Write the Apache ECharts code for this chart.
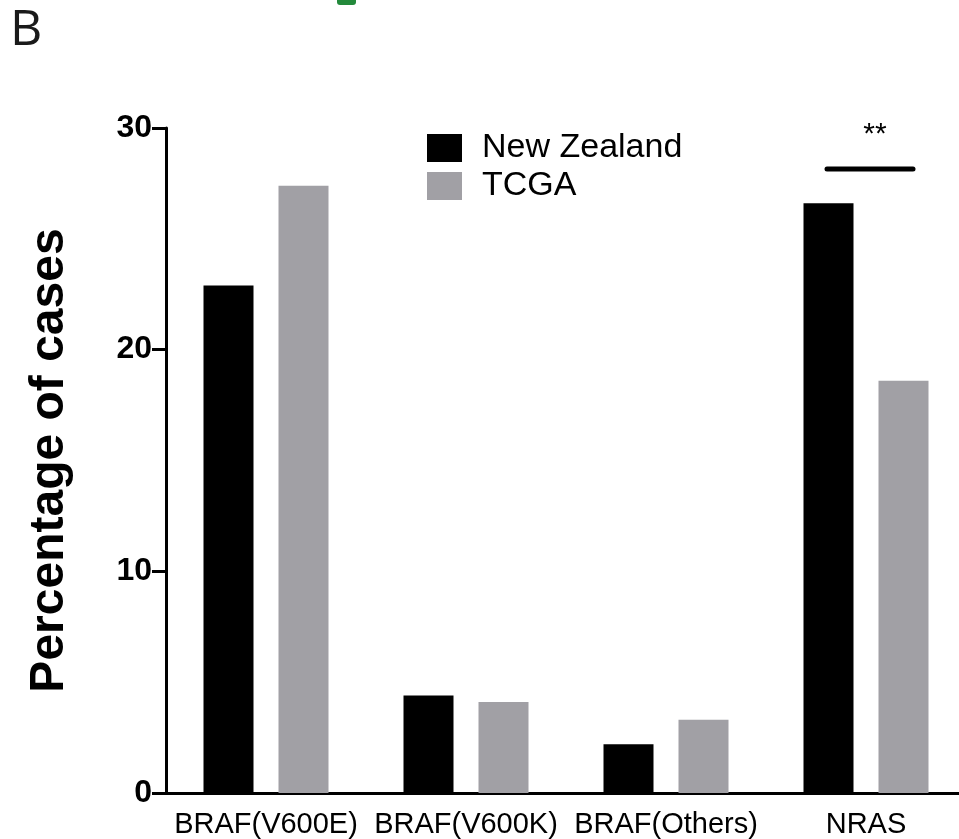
<!DOCTYPE html>
<html>
<head>
<meta charset="utf-8">
<title>Mutation frequency: New Zealand vs TCGA</title>
<script src="https://cdn.jsdelivr.net/npm/echarts@6/dist/echarts.min.js"></script>
<style>
  html, body { margin: 0; padding: 0; background: #ffffff; }
  #chart { width: 959px; height: 839px; }
</style>
</head>
<body>
<div id="chart"></div>
<script>
// Mutation categories on the x axis
const categories = ['BRAF(V600E)', 'BRAF(V600K)', 'BRAF(Others)', 'NRAS'];
// Percentage of cases per cohort
const newZealand = [22.9, 4.4, 2.2, 26.6];
const tcga = [27.4, 4.1, 3.3, 18.6];
// Y axis range and step
const yMin = 0, yMax = 30, yStep = 10;
// Significance annotation: category index, bracket height (percent), marker text
const sigCategory = [3];
const sigLevel = [28.15];
const sigText = ['**'];

const chart = echarts.init(document.getElementById('chart'), null, { renderer: 'canvas' });

const option = {
  animation: false,
  backgroundColor: '#ffffff',
  textStyle: { fontFamily: 'Liberation Sans, Arial, sans-serif' },
  grid: {
    left: 166, top: 128, width: 800, height: 665,
    containLabel: false,
    outerBoundsMode: 'none'
  },
  legend: {
    orient: 'vertical',
    left: 422,
    top: 126,
    itemWidth: 35,
    itemHeight: 28,
    itemGap: 4,
    icon: 'rect',
    selectedMode: false,
    textStyle: {
      fontSize: 34,
      color: '#000',
      lineHeight: 30,
      padding: [0, 0, 0, 15],
      fontFamily: 'Liberation Sans, Arial, sans-serif'
    },
    data: ['New Zealand', 'TCGA']
  },
  xAxis: {
    type: 'category',
    data: categories,
    axisLine: { lineStyle: { color: '#000', width: 3 } },
    axisTick: { alignWithLabel: true, length: 10, lineStyle: { color: '#000', width: 3 } },
    axisLabel: { color: '#000', fontSize: 29, margin: 17, interval: 0 },
    splitLine: { show: false }
  },
  yAxis: {
    type: 'value',
    min: yMin,
    max: yMax,
    interval: yStep,
    name: 'Percentage of cases',
    nameLocation: 'middle',
    nameRotate: 90,
    nameGap: 92,
    nameTextStyle: { fontSize: 48, fontWeight: 'bold', color: '#000' },
    axisLine: { show: true, lineStyle: { color: '#000', width: 3 } },
    axisTick: { show: true, length: 14, lineStyle: { color: '#000', width: 3 } },
    axisLabel: { color: '#000', fontSize: 32, fontWeight: 'bold', margin: 14 },
    splitLine: { show: false }
  },
  series: [
    {
      name: 'New Zealand',
      type: 'bar',
      data: newZealand,
      barWidth: 50,
      barGap: '50%',
      itemStyle: { color: '#000000' }
    },
    {
      name: 'TCGA',
      type: 'bar',
      data: tcga,
      barWidth: 50,
      itemStyle: { color: '#a1a0a5' }
    },
    {
      // significance bracket and stars above the paired bars
      type: 'custom',
      silent: true,
      data: sigCategory.map((c, i) => [c, sigLevel[i], sigText[i]]),
      renderItem: function (params, api) {
        const p = api.coord([api.value(0), api.value(1)]);
        const band = api.size([1, 0])[0];
        const x1 = p[0] - band * 0.195;
        const x2 = p[0] + band * 0.235;
        const top = api.coord([api.value(0), yMax])[1];
        return {
          type: 'group',
          children: [
            {
              type: 'line',
              shape: { x1: x1, y1: p[1], x2: x2, y2: p[1] },
              style: { stroke: '#000', lineWidth: 5, lineCap: 'round' }
            },
            {
              type: 'text',
              style: {
                x: (x1 + x2) / 2 + 5,
                y: top + 7,
                text: sigText[params.dataIndex],
                fill: '#000',
                fontSize: 30,
                fontFamily: 'Liberation Sans, Arial, sans-serif',
                align: 'center',
                verticalAlign: 'middle'
              }
            }
          ]
        };
      }
    }
  ],
  graphic: [
    {
      type: 'text',
      left: 10,
      top: 6,
      style: {
        text: 'B',
        fontSize: 50,
        fontFamily: 'Open Sans, Noto Sans, sans-serif',
        fill: '#1a1a1a'
      }
    },
    {
      type: 'rect',
      shape: { x: 337, y: -6, width: 19, height: 11, r: 3 },
      style: { fill: '#23893b' }
    }
  ]
};

chart.setOption(option);
</script>
</body>
</html>
